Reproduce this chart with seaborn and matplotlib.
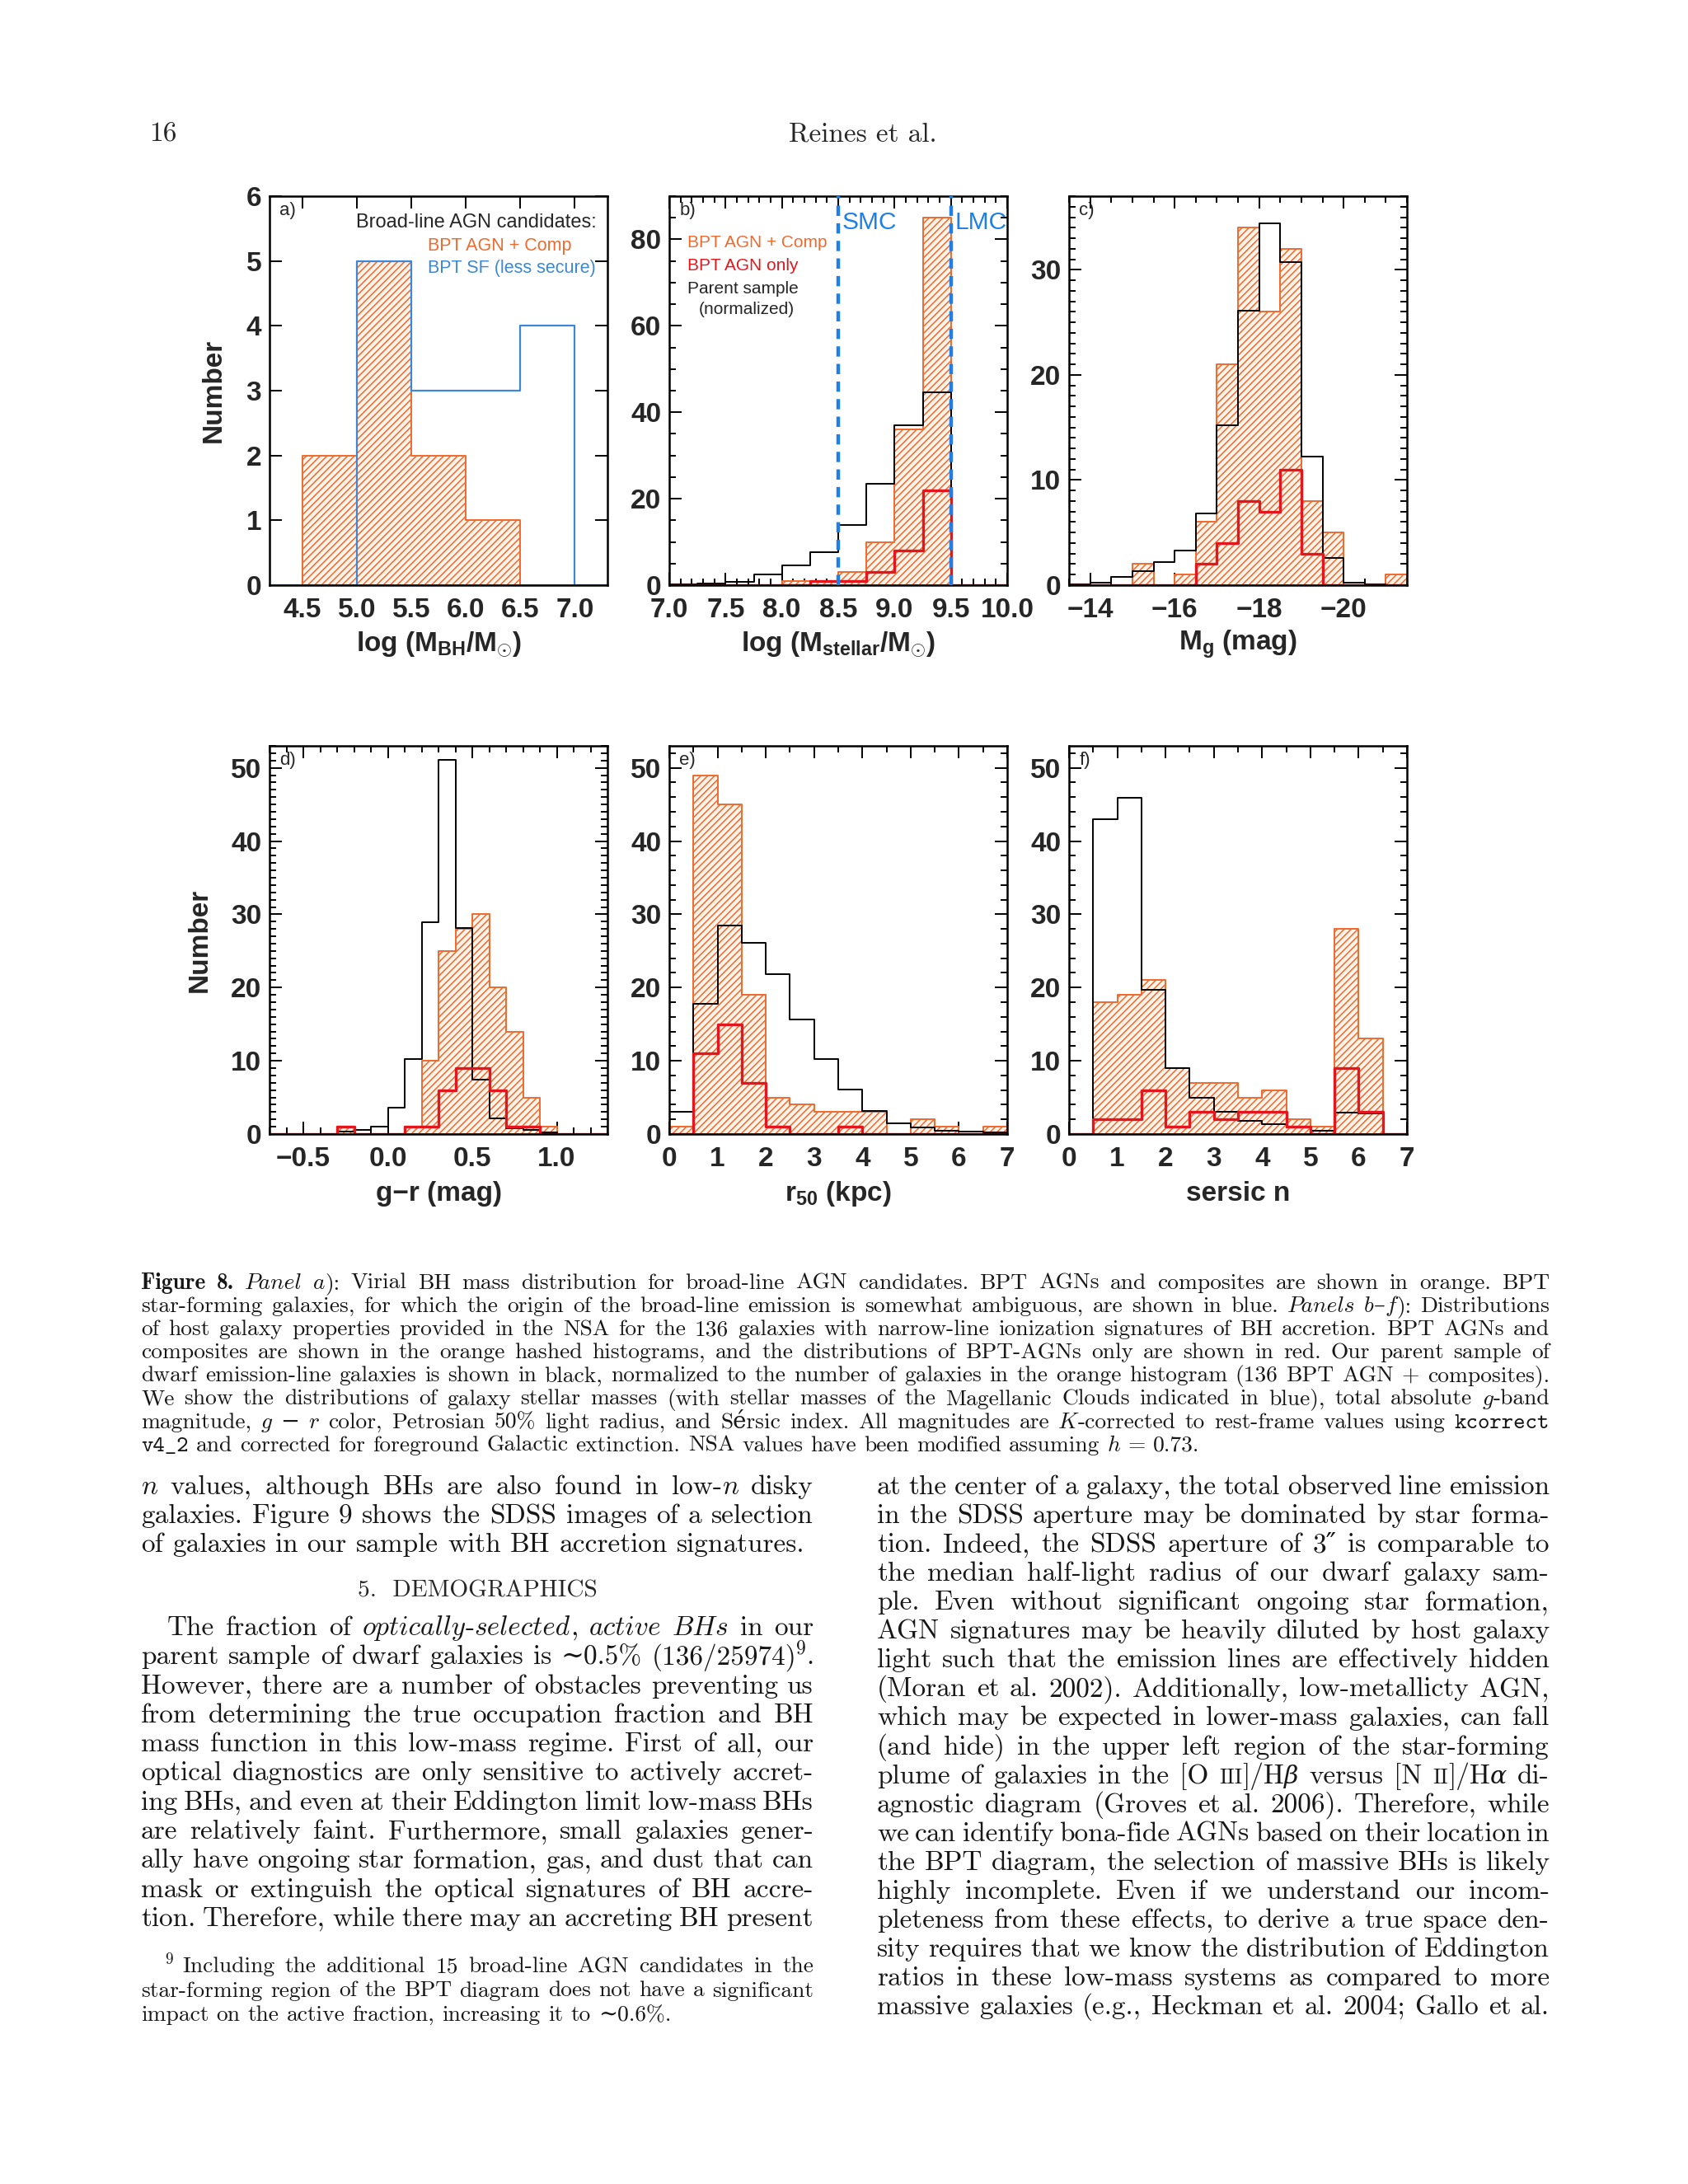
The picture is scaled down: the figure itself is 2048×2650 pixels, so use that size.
import numpy as np
import pandas as pd
import matplotlib
matplotlib.use("Agg")
import matplotlib.pyplot as plt
import seaborn as sns
from matplotlib.ticker import MultipleLocator, FuncFormatter, NullLocator
from matplotlib.transforms import IdentityTransform

# ---------------- data ----------------
# a) virial BH masses (broad-line candidates)
mbh_edges = [4.0, 4.5, 5.0, 5.5, 6.0, 6.5, 7.0, 7.5]
mbh_agn_comp = [0, 2, 5, 2, 1, 0, 0]
mbh_sf = [0, 0, 5, 3, 3, 4, 0]

# b) stellar mass
mstar_edges = [7.0, 7.25, 7.5, 7.75, 8.0, 8.25, 8.5, 8.75, 9.0, 9.25, 9.5, 9.75, 10.0]
mstar_parent = [0.1, 0.3, 0.7, 2.4, 4.5, 7.7, 13.9, 23.4, 36.9, 44.7, 0, 0]
mstar_agn_comp = [0, 0, 0, 0, 1, 1, 3, 10, 36, 85, 0, 0]
mstar_agn = [0, 0, 0, 0, 0, 1, 1, 3, 8, 22, 0, 0]
smc_mass = 8.5
lmc_mass = 9.5

# c) absolute g magnitude (bins listed faint -> bright)
mg_edges = [-13.5, -14.0, -14.5, -15.0, -15.5, -16.0, -16.5, -17.0, -17.5,
            -18.0, -18.5, -19.0, -19.5, -20.0, -20.5, -21.0, -21.5]
mg_parent = [0.1, 0.25, 0.8, 1.3, 2.2, 3.3, 6.8, 15.2, 26.1, 34.4, 30.7, 12.2, 2.6, 0.25, 0.1, 0]
mg_agn_comp = [0, 0, 0, 2, 0, 1, 6, 21, 34, 26, 32, 8, 5, 0, 0, 1]
mg_agn = [0, 0, 0, 0, 0, 0, 2, 4, 8, 7, 11, 3, 0, 0, 0, 0]

# d) g-r colour
gr_edges = [-0.7, -0.6, -0.5, -0.4, -0.3, -0.2, -0.1, 0.0, 0.1, 0.2, 0.3,
            0.4, 0.5, 0.6, 0.7, 0.8, 0.9, 1.0, 1.1, 1.2, 1.3]
gr_parent = [0, 0, 0, 0, 0.3, 0.6, 1.0, 3.6, 10.2, 28.9, 51.1, 28.1, 7.4, 2.1, 0.8, 0.6, 0.2, 0, 0, 0]
gr_agn_comp = [0, 0, 0, 0, 1, 0, 0, 0, 1, 10, 25, 28, 30, 20, 14, 5, 1, 0, 0, 0]
gr_agn = [0, 0, 0, 0, 1, 0, 0, 0, 1, 1, 6, 9, 9, 6, 1, 1, 0, 0, 0, 0]

# e) Petrosian 50% radius
r50_edges = [0.0, 0.5, 1.0, 1.5, 2.0, 2.5, 3.0, 3.5, 4.0, 4.5, 5.0, 5.5, 6.0, 6.5, 7.0]
r50_parent = [3.0, 17.8, 28.5, 26.1, 21.8, 15.6, 10.2, 6.1, 3.1, 1.5, 0.9, 0.5, 0.3, 0.2]
r50_agn_comp = [1, 49, 45, 19, 5, 4, 3, 3, 3, 0, 2, 1, 0, 1]
r50_agn = [0, 11, 15, 7, 1, 0, 0, 1, 0, 0, 0, 0, 0, 0]

# f) Sersic index
n_edges = [0.0, 0.5, 1.0, 1.5, 2.0, 2.5, 3.0, 3.5, 4.0, 4.5, 5.0, 5.5, 6.0, 6.5, 7.0]
n_parent = [0, 43, 45.9, 19.7, 9.0, 5.0, 3.0, 1.8, 1.3, 0.9, 0.5, 2.9, 2.8, 0]
n_agn_comp = [0, 18, 19, 21, 9, 7, 7, 5, 6, 2, 1, 28, 13, 0]
n_agn = [0, 2, 2, 6, 1, 3, 2, 3, 3, 1, 0, 9, 3, 0]

ORANGE = "#EE6A2E"
PEACH = "#FFF3EA"
RED = "#E3161D"
BLUE = "#3C88D6"
MC_BLUE = "#1E7FE6"

sns.set_style("ticks")
plt.rcParams["font.family"] = ["Liberation Sans", "DejaVu Sans"]
plt.rcParams["font.weight"] = "bold"
plt.rcParams["axes.labelweight"] = "bold"
plt.rcParams["mathtext.fontset"] = "custom"
plt.rcParams["mathtext.rm"] = "Liberation Sans:bold"
plt.rcParams["mathtext.it"] = "Liberation Sans:italic:bold"
plt.rcParams["mathtext.bf"] = "Liberation Sans:bold"
plt.rcParams["hatch.linewidth"] = 1.1
plt.rcParams["axes.unicode_minus"] = True

W, H = 2048, 2650
fig = plt.figure(figsize=(W / 100, H / 100), dpi=100)
fig.patch.set_facecolor("white")


def axes_px(x0, x1, y0, y1):
    return fig.add_axes([x0 / W, 1 - y1 / H, (x1 - x0) / W, (y1 - y0) / H])


def hist_frame(edges, counts):
    e = np.asarray(edges, float)
    return pd.DataFrame({"value": (e[:-1] + e[1:]) / 2, "count": np.asarray(counts, float)})


def hatched(ax, edges, counts):
    sns.histplot(data=hist_frame(edges, counts), x="value", weights="count",
                 bins=sorted(edges), element="step", fill=True, facecolor=PEACH,
                 edgecolor=ORANGE, hatch="////", linewidth=1.4, ax=ax)


def outline(ax, edges, counts, color, lw):
    sns.histplot(data=hist_frame(edges, counts), x="value", weights="count",
                 bins=sorted(edges), element="step", fill=False, color=color,
                 linewidth=lw, ax=ax)


def f1(v, pos):
    return f"{round(v, 1) + 0.0:.1f}".replace("-", "\u2212")


def f0(v, pos):
    return f"{int(round(v))}".replace("-", "\u2212")


def style(ax, xlim, ylim, xmaj, xmin, ymaj, ymin, xfmt, xlabel, letter):
    ax.set_xlim(*xlim)
    ax.set_ylim(*ylim)
    ax.xaxis.set_major_locator(MultipleLocator(xmaj))
    ax.xaxis.set_minor_locator(MultipleLocator(xmin) if xmin else NullLocator())
    ax.yaxis.set_major_locator(MultipleLocator(ymaj))
    ax.yaxis.set_minor_locator(MultipleLocator(ymin) if ymin else NullLocator())
    ax.xaxis.set_major_formatter(FuncFormatter(xfmt))
    ax.yaxis.set_major_formatter(FuncFormatter(f0))
    ax.tick_params(which="both", direction="in", top=True, right=True,
                   width=1.4, color="black")
    ax.tick_params(which="major", length=11, labelsize=24)
    ax.tick_params(axis="x", which="major", pad=11)
    ax.tick_params(axis="y", which="major", pad=7)
    ax.tick_params(which="minor", length=5.5)
    for s in ax.spines.values():
        s.set_linewidth(1.8)
        s.set_color("black")
    ax.set_ylabel("")
    ax.set_xlabel(xlabel, fontsize=24, fontweight="bold", va="center")
    ax.xaxis.set_label_coords(0.5, -0.153)
    ax.text(0.03, 0.962, letter, transform=ax.transAxes, fontsize=16,
            weight="normal", ha="left", va="center")


ax_a = axes_px(327, 737, 238, 710)
ax_b = axes_px(812, 1222, 238, 710)
ax_c = axes_px(1297, 1707, 238, 710)
ax_d = axes_px(327, 737, 905, 1376)
ax_e = axes_px(812, 1222, 905, 1376)
ax_f = axes_px(1297, 1707, 905, 1376)

# a) BH mass
hatched(ax_a, mbh_edges, mbh_agn_comp)
outline(ax_a, mbh_edges, mbh_sf, BLUE, 1.6)
style(ax_a, (4.2, 7.3), (0, 6), 0.5, None, 1, None, f1,
      r"log (M$_{\rm BH}$/M$_{\odot}$)", "a)")
ax_a.text(0.968, 0.933, "Broad-line AGN candidates:", transform=ax_a.transAxes,
          fontsize=17, weight="normal", ha="right", va="center")
ax_a.text(0.468, 0.872, "BPT AGN + Comp", transform=ax_a.transAxes, color=ORANGE,
          fontsize=15.5, weight="normal", ha="left", va="center")
ax_a.text(0.468, 0.815, "BPT SF (less secure)", transform=ax_a.transAxes, color=BLUE,
          fontsize=15.5, weight="normal", ha="left", va="center")
ax_a.set_ylabel("Number", fontsize=24, fontweight="bold", va="center")
ax_a.yaxis.set_label_coords(-0.166, 0.5)

# b) stellar mass
hatched(ax_b, mstar_edges, mstar_agn_comp)
outline(ax_b, mstar_edges, mstar_parent, "black", 1.4)
outline(ax_b, mstar_edges, mstar_agn, RED, 2.4)
for m in (smc_mass, lmc_mass):
    ax_b.axvline(m, color=MC_BLUE, lw=3.2, ls=(0, (2.8, 2.0)), zorder=4)
style(ax_b, (7.0, 10.0), (0, 90), 0.5, 0.1, 20, 5, f1,
      r"log (M$_{\rm stellar}$/M$_{\odot}$)", "b)")
ax_b.text(0.053, 0.881, "BPT AGN + Comp", transform=ax_b.transAxes, color=ORANGE,
          fontsize=15, weight="normal", ha="left", va="center")
ax_b.text(0.053, 0.821, "BPT AGN only", transform=ax_b.transAxes, color=RED,
          fontsize=15, weight="normal", ha="left", va="center")
ax_b.text(0.053, 0.761, "Parent sample", transform=ax_b.transAxes,
          fontsize=15, weight="normal", ha="left", va="center")
ax_b.text(0.087, 0.708, "(normalized)", transform=ax_b.transAxes,
          fontsize=15, weight="normal", ha="left", va="center")
ax_b.text(0.512, 0.932, "SMC", transform=ax_b.transAxes, color=MC_BLUE,
          fontsize=21.5, weight="normal", ha="left", va="center")
ax_b.text(0.846, 0.932, "LMC", transform=ax_b.transAxes, color=MC_BLUE,
          fontsize=21.5, weight="normal", ha="left", va="center")

# c) g-band absolute magnitude
hatched(ax_c, mg_edges, mg_agn_comp)
outline(ax_c, mg_edges, mg_parent, "black", 1.4)
outline(ax_c, mg_edges, mg_agn, RED, 2.4)
style(ax_c, (-13.5, -21.5), (0, 37), 2, 0.5, 10, 1, f0, r"M$_{\rm g}$ (mag)", "c)")

# d) g-r colour
hatched(ax_d, gr_edges, gr_agn_comp)
outline(ax_d, gr_edges, gr_parent, "black", 1.4)
outline(ax_d, gr_edges, gr_agn, RED, 2.4)
style(ax_d, (-0.7, 1.3), (0, 53), 0.5, 0.1, 10, 1, f1, "g\u2212r (mag)", "d)")
ax_d.set_ylabel("Number", fontsize=24, fontweight="bold", va="center")
ax_d.yaxis.set_label_coords(-0.207, 0.5)

# e) r50
hatched(ax_e, r50_edges, r50_agn_comp)
outline(ax_e, r50_edges, r50_parent, "black", 1.4)
outline(ax_e, r50_edges, r50_agn, RED, 2.4)
style(ax_e, (0, 7), (0, 53), 1, 0.5, 10, 2, f0, r"r$_{\rm 50}$ (kpc)", "e)")

# f) sersic n
hatched(ax_f, n_edges, n_agn_comp)
outline(ax_f, n_edges, n_parent, "black", 1.4)
outline(ax_f, n_edges, n_agn, RED, 2.4)
style(ax_f, (0, 7), (0, 53), 1, 0.5, 10, 2, f0, "sersic n", "f)")

# ---------------- page text ----------------
SERIF = ["cmr10", "DejaVu Serif"]
STYLES = {
    "rm": {"family": SERIF},
    "it": {"family": ["cmmi10", "DejaVu Serif"], "style": "italic"},
    "gr": {"family": ["DejaVu Serif"], "style": "italic", "scale": 0.9},
    "bf": {"family": ["cmb10", "DejaVu Serif"], "weight": "bold"},
    "tt": {"family": ["cmtt10", "DejaVu Sans Mono"]},
    "sc": {"family": SERIF, "scale": 0.78},
    "sup": {"family": SERIF, "scale": 0.7, "rise": 0.38},
}
renderer = fig.canvas.get_renderer()


def draw_line(parts, y, x0, x1, size, justify=True, indent=0):
    words = [[]]
    for txt, st in parts:
        for k, piece in enumerate(txt.split(" ")):
            if k > 0:
                words.append([])
            if piece:
                words[-1].append((piece, st))
    words = [w for w in words if w]
    placed = []
    for w in words:
        row = []
        for piece, st in w:
            spec = STYLES[st]
            t = fig.text(0, 0, piece, transform=IdentityTransform(),
                         fontsize=size * spec.get("scale", 1.0),
                         family=spec["family"], style=spec.get("style", "normal"),
                         weight=spec.get("weight", "normal"), color="#161616",
                         ha="left", va="baseline")
            row.append([t, t.get_window_extent(renderer).width, spec.get("rise", 0.0)])
        placed.append(row)
    total = sum(it[1] for row in placed for it in row)
    start = x0 + indent
    avail = x1 - start
    natural = size * 100 / 72 * 0.333
    n_gaps = max(len(placed) - 1, 1)
    gap = (avail - total) / n_gaps if (justify and len(placed) > 1) else natural
    if total + n_gaps * min(gap, natural) > avail and gap < natural * 0.6:
        shrink = (avail - natural * 0.6 * n_gaps) / total
        for row in placed:
            for it in row:
                it[0].set_fontsize(it[0].get_fontsize() * shrink)
                it[1] *= shrink
        gap = natural * 0.6
    x = start
    for row in placed:
        for t, wd, rise in row:
            t.set_position((x, H - y + rise * size * 100 / 72))
            x += wd
        x += gap


BODY = 24.0
SMALL = 19.8

# running head
fig.text(181, H - 172, "16", transform=IdentityTransform(), fontsize=BODY,
         family=SERIF, weight="normal", ha="left", va="baseline")
fig.text(1047, H - 172, "Reines et al.", transform=IdentityTransform(), fontsize=BODY,
         family=SERIF, weight="normal", ha="center", va="baseline")

caption_lines = [
    [("Figure 8.", "bf"), ("  ", "rm"), ("Panel", "it"), (" ", "rm"), ("a", "it"), ("):", "rm"),
     (" Virial BH mass distribution for broad-line AGN candidates. BPT AGNs and composites are shown in orange. BPT", "rm")],
    [("star-forming galaxies, for which the origin of the broad-line emission is somewhat ambiguous, are shown in blue. ", "rm"),
     ("Panels", "it"), (" ", "rm"), ("b", "it"), ("\u2013", "rm"), ("f", "it"), ("):", "rm"), (" Distributions", "rm")],
    [("of host galaxy properties provided in the NSA for the 136 galaxies with narrow-line ionization signatures of BH accretion. BPT AGNs and", "rm")],
    [("composites are shown in the orange hashed histograms, and the distributions of BPT-AGNs only are shown in red. Our parent sample of", "rm")],
    [("dwarf emission-line galaxies is shown in black, normalized to the number of galaxies in the orange histogram (136 BPT AGN + composites).", "rm")],
    [("We show the distributions of galaxy stellar masses (with stellar masses of the Magellanic Clouds indicated in blue), total absolute ", "rm"),
     ("g", "it"), ("-band", "rm")],
    [("magnitude, ", "rm"), ("g", "it"), (" \u2212 ", "rm"), ("r", "it"),
     (" color, Petrosian 50% light radius, and S\u00e9rsic index. All magnitudes are ", "rm"), ("K", "it"),
     ("-corrected to rest-frame values using ", "rm"), ("kcorrect", "tt")],
    [("v4_2", "tt"), (" and corrected for foreground Galactic extinction. NSA values have been modified assuming ", "rm"),
     ("h", "it"), (" = 0.73.", "rm")],
]
for k, parts in enumerate(caption_lines):
    draw_line(parts, 1564 + k * 28.1, 171, 1880, SMALL, justify=(k < len(caption_lines) - 1))

LX0, LX1 = 171, 987
RX0, RX1 = 1064, 1880

left_top = [
    [("n", "it"), (" values, although BHs are also found in low-", "rm"), ("n", "it"), (" disky", "rm")],
    [("galaxies. Figure 9 shows the SDSS images of a selection", "rm")],
    [("of galaxies in our sample with BH accretion signatures.", "rm")],
]
for k, parts in enumerate(left_top):
    draw_line(parts, 1813 + k * 35.2, LX0, LX1, BODY, justify=(k < 2))

fig.text((LX0 + LX1) / 2, H - 1938, "5.  DEMOGRAPHICS", transform=IdentityTransform(),
         fontsize=BODY * 0.88, family=SERIF, weight="normal", ha="center", va="baseline")

left_body = [
    [("The fraction of ", "rm"), ("optically", "it"), ("-", "rm"), ("selected", "it"), (",", "rm"),
     (" active BHs", "it"), (" in our", "rm")],
    [("parent sample of dwarf galaxies is \u223c0.5% (136/25974)", "rm"), ("9", "sup"), (".", "rm")],
    [("However, there are a number of obstacles preventing us", "rm")],
    [("from determining the true occupation fraction and BH", "rm")],
    [("mass function in this low-mass regime. First of all, our", "rm")],
    [("optical diagnostics are only sensitive to actively accret-", "rm")],
    [("ing BHs, and even at their Eddington limit low-mass BHs", "rm")],
    [("are relatively faint. Furthermore, small galaxies gener-", "rm")],
    [("ally have ongoing star formation, gas, and dust that can", "rm")],
    [("mask or extinguish the optical signatures of BH accre-", "rm")],
    [("tion. Therefore, while there may an accreting BH present", "rm")],
]
for k, parts in enumerate(left_body):
    draw_line(parts, 1984 + k * 35.3, LX0, LX1, BODY, indent=(32 if k == 0 else 0))

footnote = [
    [("9", "sup"), (" Including the additional 15 broad-line AGN candidates in the", "rm")],
    [("star-forming region of the BPT diagram does not have a significant", "rm")],
    [("impact on the active fraction, increasing it to \u223c0.6%.", "rm")],
]
for k, parts in enumerate(footnote):
    draw_line(parts, 2393 + k * 29.5, LX0, LX1, SMALL, justify=(k < 2),
              indent=(29 if k == 0 else 0))

right_body = [
    [("at the center of a galaxy, the total observed line emission", "rm")],
    [("in the SDSS aperture may be dominated by star forma-", "rm")],
    [("tion. Indeed, the SDSS aperture of 3\u2033 is comparable to", "rm")],
    [("the median half-light radius of our dwarf galaxy sam-", "rm")],
    [("ple. Even without significant ongoing star formation,", "rm")],
    [("AGN signatures may be heavily diluted by host galaxy", "rm")],
    [("light such that the emission lines are effectively hidden", "rm")],
    [("(Moran et al. 2002). Additionally, low-metallicty AGN,", "rm")],
    [("which may be expected in lower-mass galaxies, can fall", "rm")],
    [("(and hide) in the upper left region of the star-forming", "rm")],
    [("plume of galaxies in the [O ", "rm"), ("III", "sc"), ("]/H", "rm"), ("\u03b2", "gr"),
     (" versus [N ", "rm"), ("II", "sc"), ("]/H", "rm"), ("\u03b1", "gr"), (" di-", "rm")],
    [("agnostic diagram (Groves et al. 2006). Therefore, while", "rm")],
    [("we can identify bona-fide AGNs based on their location in", "rm")],
    [("the BPT diagram, the selection of massive BHs is likely", "rm")],
    [("highly incomplete. Even if we understand our incom-", "rm")],
    [("pleteness from these effects, to derive a true space den-", "rm")],
    [("sity requires that we know the distribution of Eddington", "rm")],
    [("ratios in these low-mass systems as compared to more", "rm")],
    [("massive galaxies (e.g., Heckman et al. 2004; Gallo et al.", "rm")],
]
for k, parts in enumerate(right_body):
    draw_line(parts, 1813 + k * 35.06, RX0, RX1, BODY)

fig.savefig("out.png", dpi=100, facecolor="white")
